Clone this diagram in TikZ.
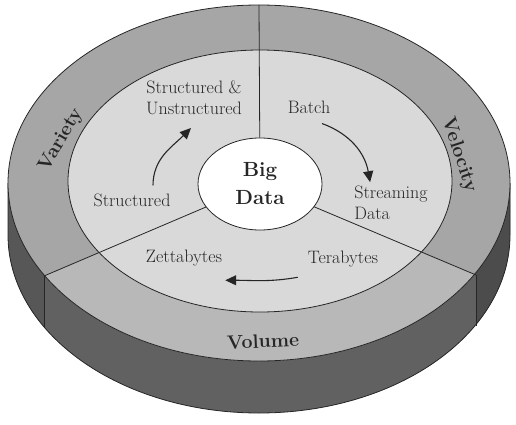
\documentclass[tikz,border=0pt]{standalone}
\usetikzlibrary{arrows.meta, calc, shapes.geometric}

% cylinder side (page coordinates, y downwards)
\newcommand{\sideshape}{(8,183) -- (8,235)
  arc[start angle=180, end angle=360, x radius=251pt, y radius=178pt]
  -- (510,183)
  arc[start angle=360, end angle=180, x radius=251pt, y radius=178pt] -- cycle}

\begin{document}
\begin{tikzpicture}[
  x=1pt, y=-1pt,
  >={Triangle[length=11pt, width=10pt]},
  lbl/.style={font=\fontsize{18}{20.5}\selectfont, text=black!85, align=center, inner sep=1pt},
  dim/.style={font=\bfseries\fontsize{19.5}{22}\selectfont, text=black!85, inner sep=0pt},
  hubbox/.style={ellipse, draw=black!85, fill=white, line width=0.8pt, inner sep=0pt,
                 minimum width=124pt, minimum height=92pt, align=center,
                 font=\bfseries\fontsize{20.5}{28}\selectfont, text=black!85},
  flow/.style={->, line width=1.1pt, draw=black!85},
  edge/.style={draw=black!85, line width=0.8pt},
  sidefront/.style={fill=black!62},
  sideleft/.style={fill=black!66},
  sideright/.style={fill=black!70},
  ring/.style={fill=black!35},
  ringlow/.style={fill=black!28},
  inner/.style={fill=black!15},
]
\useasboundingbox (0,0) rectangle (516,425);
% side of the disc
\fill[sidefront] \sideshape;
\begin{scope}
  \clip (0,0) rectangle (44,425);
  \fill[sideleft] \sideshape;
\end{scope}
\begin{scope}
  \clip (476,0) rectangle (516,425);
  \fill[sideright] \sideshape;
\end{scope}
\draw[edge] (8,183) -- (8,235)
  arc[start angle=180, end angle=360, x radius=251pt, y radius=178pt] -- (510,183);
% top ring
\fill[ring] (259,183) ellipse[x radius=251pt, y radius=178pt];
\begin{scope}
  \clip (259,183) ellipse[x radius=251pt, y radius=178pt];
  \fill[ringlow] (260,184) -- ($(260,184)!3!(44,276)$) -- ($(260,184)!3!(476,275)$) -- cycle;
\end{scope}
\draw[edge] (259,183) ellipse[x radius=251pt, y radius=178pt];
\filldraw[inner, edge] (260,181) ellipse[x radius=192pt, y radius=131pt];
% corners
\coordinate (tcorner) at (259,5);
\coordinate (lcorner) at (44,276);
\coordinate (rcorner) at (476,275);
\coordinate (lfoot) at (44,327);
\coordinate (rfoot) at (476,326);
% hub
\node[hubbox] (hub) at (260,184) {Big\\Data};
\draw[edge] (hub) -- (tcorner);
\draw[edge] (hub) -- (lcorner);
\draw[edge] (hub) -- (rcorner);
\draw[edge] (lcorner) -- (lfoot);
\draw[edge] (rcorner) -- (rfoot);
% ring labels
\node[dim, rotate=60] (variety) at (61,140) {Variety};
\node[dim, rotate=-72] (velocity) at (459,155) {Velocity};
\node[dim, rotate=2.5] (volume) at (263,341) {Volume};
% inner labels
\node[lbl] (mixed) at (194,98) {Structured \&\\Unstructured};
\node[lbl] (struct) at (132,200) {Structured};
\node[lbl] (batch) at (309,107) {Batch};
\node[lbl, align=left] (stream) at (391,203) {Streaming\\Data};
\node[lbl] (zetta) at (184,258) {Zettabytes};
\node[lbl] (tera) at (343,259) {Terabytes};
% arrows
\draw[flow] ($(struct.north)+(21,-7)$) to[out=90, in=225] ($(mixed.south)+(-3,12)$);
\draw[flow] ($(batch.south)+(13,9)$) to[out=-20, in=100] ($(stream.north west)+(17,-3)$);
\draw[flow] ($(tera.south west)+(-9,9)$) to[out=190, in=0] ($(zetta.south east)+(2,13)$);
\end{tikzpicture}
\end{document}
